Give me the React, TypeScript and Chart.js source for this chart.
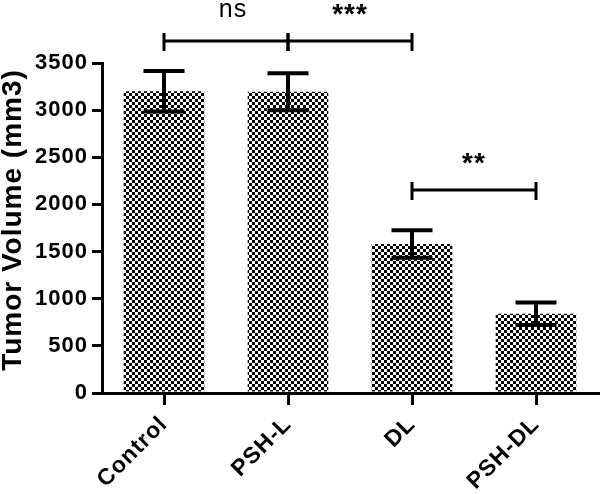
import React, { useEffect, useRef } from 'react';
import { Chart, registerables } from 'chart.js';

Chart.register(...registerables);

const categories = ['Control', 'PSH-L', 'DL', 'PSH-DL'];
const tumorVolume = [3200, 3195, 1580, 840];
const tumorSem = [215, 195, 145, 120];
const yTickValues = [0, 500, 1000, 1500, 2000, 2500, 3000, 3500];
const yTitle = 'Tumor Volume (mm3)';
const comparisonFrom = [0, 1, 2];
const comparisonTo = [1, 2, 3];
const comparisonLevel = [3733, 3733, 2153];
const comparisonLabel = ['ns', '***', '**'];

const FONT = "'Liberation Sans', Arial, sans-serif";

function makePattern(): CanvasPattern | string {
  const c = document.createElement('canvas');
  c.width = 6;
  c.height = 6;
  const g = c.getContext('2d');
  if (!g) return '#888';
  g.fillStyle = '#fff';
  g.fillRect(0, 0, 6, 6);
  g.fillStyle = '#000';
  g.fillRect(0, 0, 3, 3);
  g.fillRect(3, 3, 3, 3);
  const p = g.createPattern(c, 'repeat');
  return p || '#888';
}

const annotationPlugin = {
  id: 'annotations',
  beforeDraw(chart: any) {
    try {
      chart.ctx.letterSpacing = '1px';
    } catch (e) {}
  },
  afterDatasetsDraw(chart: any) {
    const ctx = chart.ctx;
    const x = chart.scales.x;
    const y = chart.scales.y;
    ctx.save();
    ctx.strokeStyle = '#000';
    ctx.fillStyle = '#000';
    // error bars
    tumorVolume.forEach((v, i) => {
      const cx = x.getPixelForValue(i);
      const top = y.getPixelForValue(v + tumorSem[i]);
      const bot = y.getPixelForValue(v - tumorSem[i]);
      ctx.lineWidth = 4;
      ctx.beginPath();
      ctx.moveTo(cx, top);
      ctx.lineTo(cx, bot);
      ctx.stroke();
      ctx.beginPath();
      ctx.moveTo(cx - 20.5, top);
      ctx.lineTo(cx + 20.5, top);
      ctx.moveTo(cx - 20.5, bot);
      ctx.lineTo(cx + 20.5, bot);
      ctx.stroke();
    });
    // significance brackets
    comparisonLabel.forEach((label, k) => {
      const x1 = x.getPixelForValue(comparisonFrom[k]);
      const x2 = x.getPixelForValue(comparisonTo[k]);
      const by = y.getPixelForValue(comparisonLevel[k]);
      ctx.lineWidth = 3;
      ctx.beginPath();
      ctx.moveTo(x1, by);
      ctx.lineTo(x2, by);
      ctx.moveTo(x1, by - 8);
      ctx.lineTo(x1, by + 10);
      ctx.moveTo(x2, by - 8);
      ctx.lineTo(x2, by + 10);
      ctx.stroke();
      ctx.textAlign = 'center';
      ctx.textBaseline = 'alphabetic';
      if (label === 'ns') {
        ctx.font = `25px ${FONT}`;
        ctx.fillText(label, (x1 + x2) / 2 + 7, by - 24);
      } else {
        ctx.font = `bold 28px ${FONT}`;
        ctx.fillText(label, (x1 + x2) / 2, by - 18);
      }
    });
    // y-axis title
    ctx.save();
    ctx.translate(13, (y.top + y.bottom) / 2 - 8);
    ctx.rotate(-Math.PI / 2);
    ctx.font = `bold 28px ${FONT}`;
    ctx.textAlign = 'center';
    ctx.textBaseline = 'middle';
    ctx.fillText(yTitle, 0, 0);
    ctx.restore();
    ctx.restore();
  },
};

export default function App() {
  const ref = useRef<HTMLCanvasElement | null>(null);
  useEffect(() => {
    if (!ref.current) return;
    const pattern = makePattern();
    const chart = new Chart(ref.current, {
      type: 'bar',
      data: {
        labels: categories,
        datasets: [
          {
            data: tumorVolume,
            backgroundColor: pattern as any,
            borderColor: '#222',
            borderWidth: 0,
            categoryPercentage: 1,
            barPercentage: 0.65,
          },
        ],
      },
      plugins: [annotationPlugin],
      options: {
        animation: false,
        responsive: false,
        maintainAspectRatio: false,
        events: [],
        layout: { padding: { top: 63, right: 2, left: 0, bottom: 0 } },
        plugins: {
          legend: { display: false },
          tooltip: { enabled: false },
        },
        scales: {
          x: {
            offset: true,
            grid: {
              offset: false,
              drawOnChartArea: false,
              drawTicks: true,
              tickLength: 12,
              lineWidth: 3,
              color: '#000',
            },
            border: { display: true, width: 3, color: '#000' },
            ticks: {
              autoSkip: false,
              minRotation: 45,
              maxRotation: 45,
              padding: 6,
              color: '#000',
              font: { family: FONT, size: 23, weight: 'bold' },
            },
            afterFit(scale: any) {
              scale.height = 101;
            },
          },
          y: {
            min: 0,
            max: 3500,
            afterBuildTicks(scale: any) {
              scale.ticks = yTickValues.map((v) => ({ value: v }));
            },
            grid: {
              drawOnChartArea: false,
              drawTicks: true,
              tickLength: 10,
              lineWidth: 3,
              color: '#000',
            },
            border: { display: true, width: 3, color: '#000' },
            ticks: {
              padding: 4,
              color: '#000',
              font: { family: FONT, size: 22, weight: 'bold' },
              callback: (v: any) => String(v),
            },
            title: { display: false },
            afterFit(scale: any) {
              scale.width = 102;
            },
          },
        },
      } as any,
    });
    return () => chart.destroy();
  }, []);
  return (
    <div style={{ position: 'fixed', left: 0, top: 0, width: 600, height: 494, background: '#fff' }}>
      <canvas ref={ref} width={600} height={494} style={{ display: 'block', width: 600, height: 494 }} />
    </div>
  );
}
